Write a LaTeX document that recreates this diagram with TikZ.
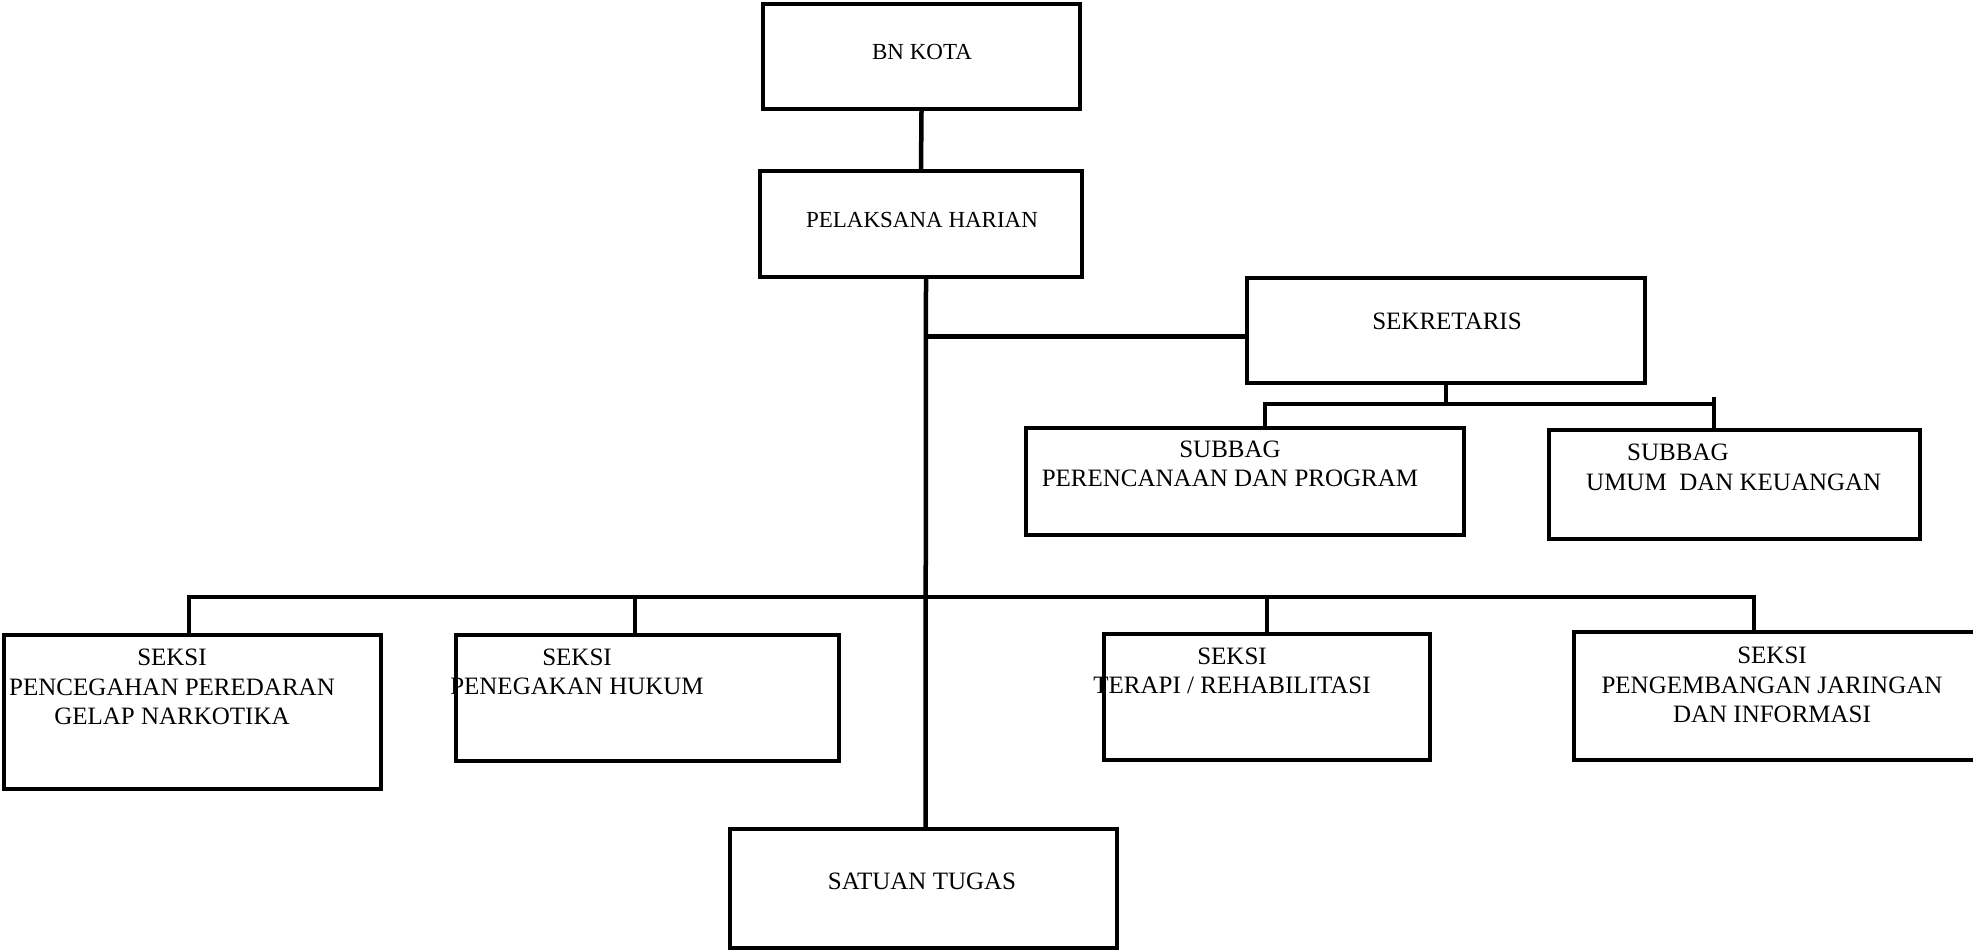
\documentclass[tikz,border=0pt]{standalone}
\usepackage{fontspec}
\setmainfont{Liberation Serif}
\usepackage{tikz}
\usetikzlibrary{positioning}

\tikzset{
	box/.style={draw, line width=4.5pt, inner sep=0pt},
	lbl/.style={inner sep=0pt, align=center, font=\fontsize{25}{29.5}\selectfont},
	toplbl/.style={inner sep=0pt, align=center, font=\fontsize{23}{28}\selectfont},
	link/.style={line width=4.5pt, line cap=rect}
}

\begin{document}
\begin{tikzpicture}[x=1pt, y=-1pt]

	\useasboundingbox (0,0) rectangle (1973,950);
%	\draw[help lines] (0,0) grid[step=100] (1973,950);

	% kotak
	\node[box, minimum width=317pt, minimum height=105pt] (bnkota) at (921.5,56.5) {};
	\node[box, minimum width=322pt, minimum height=106pt] (pelaksana) at (921,224) {};
	\node[box, minimum width=398pt, minimum height=105pt] (sekretaris) at (1446,330.5) {};
	\node[box, minimum width=438pt, minimum height=107pt] (subbag1) at (1245,481.5) {};
	\node[box, minimum width=371pt, minimum height=109pt] (subbag2) at (1734.5,484.5) {};
	\node[box, minimum width=377pt, minimum height=154pt] (seksi1) at (192.5,712) {};
	\node[box, minimum width=383pt, minimum height=126pt] (seksi2) at (647.5,698) {};
	\node[box, minimum width=326pt, minimum height=126pt] (seksi3) at (1267,697) {};
	\node[box, minimum width=421pt, minimum height=128pt] (seksi4) at (1784.5,696) {};
	\node[box, minimum width=387pt, minimum height=119pt] (satuan) at (923.5,888.5) {};

	% tulisan
	\node[toplbl] (bnkota-t) at (922,52) {BN KOTA};
	\node[toplbl] (pelaksana-t) at (922,220) {PELAKSANA HARIAN};
	\node[lbl] (sekretaris-t) at (1447,321) {SEKRETARIS};
	\node[lbl] (subbag1-t) at (1230,464) {SUBBAG\\PERENCANAAN DAN PROGRAM};
	\node[lbl, align=left, anchor=west] (subbag2-t) at (1586,467.5) {\hspace*{41pt}SUBBAG\\UMUM\ \ DAN KEUANGAN};
	\node[lbl] (seksi1-t) at (172,687) {SEKSI\\PENCEGAHAN PEREDARAN\\GELAP NARKOTIKA};
	\node[lbl] (seksi2-t) at (577,672) {SEKSI\\PENEGAKAN HUKUM};
	\node[lbl] (seksi3-t) at (1232,671) {SEKSI\\TERAPI / REHABILITASI};
	\node[lbl] (seksi4-t) at (1772,685) {SEKSI\\PENGEMBANGAN JARINGAN\\DAN INFORMASI};
	\node[lbl] (satuan-t) at (922,881) {SATUAN TUGAS};

	% garis
	\coordinate (s1) at (1265,404);
	\coordinate (s2) at (1714,404);
	\coordinate (d1) at (189,597);
	\coordinate (d2) at (635,597);
	\coordinate (d3) at (1267,597);
	\coordinate (d4) at (1754,597);

	\draw[link] (bnkota.south) -- (pelaksana.north);
	\draw[link] ([xshift=5pt]pelaksana.south) -- ([xshift=2pt]satuan.north);
	\draw[link] ([yshift=-6pt]sekretaris.west) -- ([yshift=-6pt, xshift=5pt]sekretaris.west -| pelaksana.south);

	\draw[link] (sekretaris.south) -- (sekretaris.south |- s1);
	\draw[link] (s1) -- (s2);
	\draw[link] (s1) -- (s1 |- subbag1.north);
	\draw[link] ([yshift=5pt]s2) -- (s2 |- subbag2.north);

	\draw[link] (d1) -- (d4);
	\foreach \i/\n in {1/seksi1, 2/seksi2, 3/seksi3, 4/seksi4}
		\draw[link] (d\i) -- (d\i |- \n.north);

\end{tikzpicture}
\end{document}
